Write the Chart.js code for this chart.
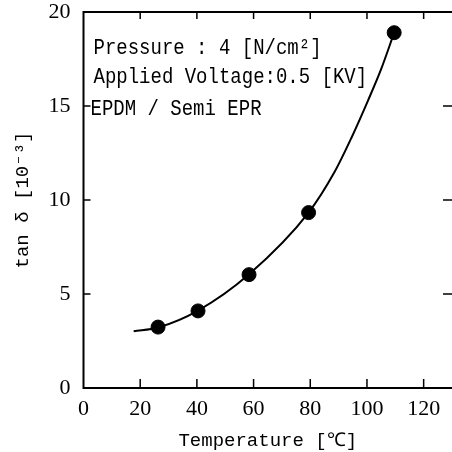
<!DOCTYPE html>
<html>
<head>
<meta charset="utf-8">
<script src="https://cdn.jsdelivr.net/npm/chart.js@4/dist/chart.umd.min.js"></script>
<style>
 html,body{margin:0;padding:0;background:#fff;}
 #wrap{width:452px;height:452px;}
</style>
</head>
<body>
<div id="wrap"><canvas id="c" width="452" height="452"></canvas></div>
<script>
// ===== DATA =====
const tempC=[26.3,40.4,58.4,79.4,109.6];
const tanDelta=[3.24,4.10,6.03,9.33,18.9];
// fitted curve
const fitTemp=[17.7,26.3,40.4,58.4,79.4,88.6,94.5,100.4,105.1,109.6];
const fitTan=[3.02,3.22,4.12,6.05,9.33,11.5,13.3,15.3,17.0,18.9];
const xTicks=[0,20,40,60,80,100,120];
const yTicks=[0,5,10,15,20];
const notes=["Pressure : 4 [N/cm²]","Applied Voltage:0.5 [KV]","EPDM / Semi EPR"];

const MONO="'Liberation Mono', monospace";
const SERIF="'Liberation Serif', serif";

// ===== FRAME + INWARD TICKS + NOTES =====
// right border of the original plot lies just past the picture edge, so only its ticks show
const frame={
 id:"frame",
 afterDraw(chart){
  const {ctx,chartArea:a,scales:{x,y}}=chart;
  ctx.save();
  ctx.strokeStyle="#000";
  ctx.lineWidth=2;
  ctx.beginPath();
  ctx.moveTo(a.right,a.top);ctx.lineTo(a.left,a.top);ctx.lineTo(a.left,a.bottom);ctx.lineTo(a.right,a.bottom);
  ctx.stroke();
  ctx.lineWidth=1.5;
  ctx.beginPath();
  xTicks.forEach(v=>{
   if(v<=0) return;
   const px=x.getPixelForValue(v);
   ctx.moveTo(px,a.bottom);ctx.lineTo(px,a.bottom-9);
   ctx.moveTo(px,a.top);ctx.lineTo(px,a.top+7);
  });
  yTicks.forEach(v=>{
   if(v<=0||v>=20) return;
   const py=y.getPixelForValue(v);
   ctx.moveTo(a.left,py);ctx.lineTo(a.left+7,py);
   ctx.moveTo(a.right,py);ctx.lineTo(a.right-9,py);
  });
  ctx.stroke();

  ctx.fillStyle="#000";
  ctx.font="19px "+MONO;
  ctx.textBaseline="alphabetic";
  const pos=[[10,42],[10,71],[7,103]];
  notes.forEach((s,i)=>{
   ctx.save();
   ctx.translate(a.left+pos[i][0],a.top+pos[i][1]);
   ctx.scale(1,1.2);
   ctx.fillText(s,0,0);
   ctx.restore();
  });
  ctx.restore();
 }
};

// ===== CHART =====
new Chart(document.getElementById("c"),{
 type:"scatter",
 data:{
  datasets:[
   {
    type:"line",
    data:fitTemp.map((t,i)=>({x:t,y:fitTan[i]})),
    borderColor:"#000",
    borderWidth:2,
    pointRadius:0,
    cubicInterpolationMode:"monotone",
    fill:false
   },
   {
    data:tempC.map((t,i)=>({x:t,y:tanDelta[i]})),
    backgroundColor:"#000",
    borderColor:"#000",
    pointRadius:7,
    pointHoverRadius:7
   }
  ]
 },
 options:{
  responsive:false,
  animation:false,
  events:[],
  layout:{autoPadding:false,padding:{left:0,top:12,right:0,bottom:0}},
  plugins:{legend:{display:false},tooltip:{enabled:false}},
  scales:{
   x:{
    type:"linear",
    min:0,max:130,
    afterBuildTicks:s=>{s.ticks=xTicks.map(v=>({value:v}));},
    afterFit:s=>{s.height=64;s.paddingLeft=0;s.paddingRight=0;},
    grid:{display:false,drawTicks:false},
    border:{display:false},
    ticks:{color:"#000",padding:8,font:{family:SERIF,size:22}},
    title:{display:true,text:"Temperature [℃]",color:"#000",font:{family:MONO,size:19},padding:{top:2,bottom:0}}
   },
   y:{
    type:"linear",
    min:0,max:20,
    afterBuildTicks:s=>{s.ticks=yTicks.map(v=>({value:v}));},
    afterFit:s=>{s.width=83.5;s.paddingTop=0;s.paddingBottom=0;},
    grid:{display:false,drawTicks:false},
    border:{display:false},
    ticks:{color:"#000",padding:13,font:{family:SERIF,size:22}},
    title:{display:true,text:"tan δ [10⁻³]",color:"#000",font:{family:MONO,size:19},padding:{top:12,bottom:0}}
   }
  }
 },
 plugins:[frame]
});
</script>
</body>
</html>
